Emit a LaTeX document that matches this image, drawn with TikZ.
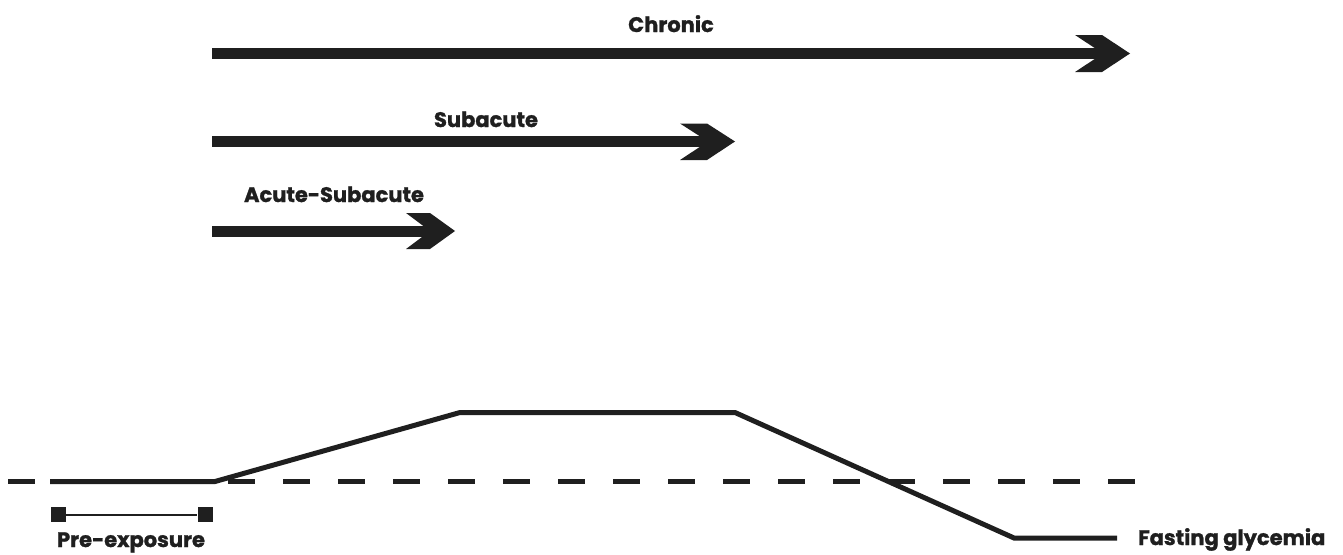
\documentclass[tikz,border=0pt]{standalone}
\usepackage{fontspec}
\setmainfont{Poppins}[BoldFeatures={FakeBold=1.3}]
\begin{document}
\begin{tikzpicture}[x=1pt,y=-1pt,
  ink/.style={fill=black!88},
  shaft/.style={draw=black!88,line width=11pt},
  lbl/.style={font=\bfseries\fontsize{21}{24}\selectfont,text=black!88,anchor=base,inner sep=0pt},
  curve/.style={draw=black!88,line width=5pt,line join=miter},
  baseline/.style={draw=black!88,line width=5.5pt,dash pattern=on 27pt off 28pt},
  bar/.style={draw=black!88,line width=2pt},
  endsq/.style={fill=black!88,minimum size=15pt,inner sep=0pt,draw=none}]
\useasboundingbox (0,0) rectangle (1343,554);
% Chronic
\coordinate (cs) at (212,53.5);
\coordinate (cn) at (1103,53.5);
\draw[shaft] (cs) -- (cn);
\fill[ink] (1075,35) -- (1102,35) -- (1130,53.5) -- (1102,72) -- (1075,72) -- (1103,53.5) -- cycle;
\node[lbl] (chronic) at (671,32) {Chronic};
% Subacute
\coordinate (ss) at (212,141.5);
\coordinate (sn) at (708,141.5);
\draw[shaft] (ss) -- (sn);
\fill[ink] (680,123.5) -- (707,123.5) -- (735,141.5) -- (707,160) -- (680,160) -- (708,141.5) -- cycle;
\node[lbl] (subacute) at (486,127) {Subacute};
% Acute-Subacute
\coordinate (as) at (212,231);
\coordinate (an) at (430,231);
\draw[shaft] (as) -- (an);
\fill[ink] (406,213) -- (430,213) -- (455,231) -- (430,249) -- (406,249) -- (430,231) -- cycle;
\node[lbl] (acute) at (334,202) {Acute-Subacute};
% dashed reference level
\coordinate (d0) at (8,481.5);
\coordinate (d1) at (1135,481.5);
\draw[baseline] (d0) -- (d1);
% glycemia curve
\coordinate (g0) at (50,481.5);
\coordinate (g1) at (215,481.5);
\coordinate (g2) at (460,412.5);
\coordinate (g3) at (735,412.5);
\coordinate (g4) at (1014,538);
\coordinate (g5) at (1117,538);
\draw[curve] (g0) -- (g1) -- (g2) -- (g3) -- (g4) -- (g5);
\node[lbl,anchor=base west] (fasting) at (1138,545) {Fasting glycemia};
% pre-exposure bracket
\node[endsq] (p0) at (58,514.5) {};
\node[endsq] (p1) at (205,514.5) {};
\draw[bar] (p0) -- (p1);
\node[lbl] (pre) at (131,547) {Pre-exposure};
\end{tikzpicture}
\end{document}
